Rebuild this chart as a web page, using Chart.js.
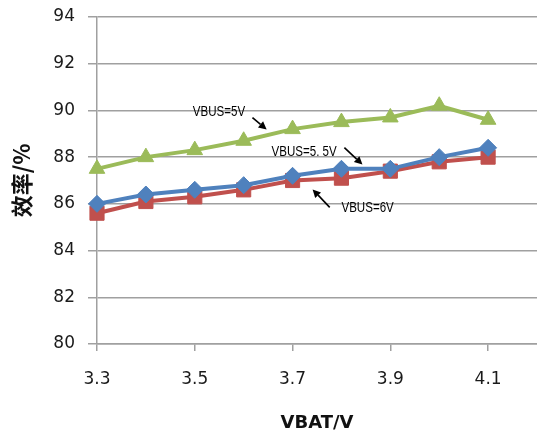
<!DOCTYPE html>
<html>
<head>
<meta charset="utf-8">
<script src="https://cdn.jsdelivr.net/npm/chart.js@4/dist/chart.umd.min.js"></script>
<style>
  html, body { margin: 0; padding: 0; background: #ffffff; overflow: hidden; }
  #wrap { width: 537px; height: 434px; position: relative; }
</style>
</head>
<body>
<div id="wrap"><canvas id="c"></canvas></div>
<script>
// ---- data ----
const vbat = [3.3, 3.4, 3.5, 3.6, 3.7, 3.8, 3.9, 4.0, 4.1];
const xTickValues = [3.3, 3.5, 3.7, 3.9, 4.1];
const yTickMin = 80;
const yTickMax = 94;
const yTickStep = 2;
const vbus5 = [87.5, 88.0, 88.3, 88.7, 89.2, 89.5, 89.7, 90.2, 89.6];
const vbus55 = [86.0, 86.4, 86.6, 86.8, 87.2, 87.5, 87.5, 88.0, 88.4];
const vbus6 = [85.6, 86.1, 86.3, 86.6, 87.0, 87.1, 87.4, 87.8, 88.0];
const seriesNames = ['VBUS=5V', 'VBUS=5.5V', 'VBUS=6V'];
const xTitle = 'VBAT/V';
const yTitle = '效率/%';
// annotation labels: text anchor (x, y) and arrow from -> to, in data units
const noteTexts = ['VBUS=5V', 'VBUS=5. 5V', 'VBUS=6V'];
const noteTextX = [3.496, 3.657, 3.800];
const noteTextY = [89.95, 88.24, 85.85];
const arrowFromX = [3.618, 3.806, 3.776];
const arrowFromY = [89.69, 88.41, 85.85];
const arrowToX = [3.647, 3.843, 3.741];
const arrowToY = [89.18, 87.68, 86.62];

const pts = arr => vbat.map((v, i) => ({ x: v, y: arr[i] }));

const gridGray = '#a0a0a0';
const tickFont = { family: 'DejaVu Sans', size: 17 };

const notesPlugin = {
  id: 'notes',
  afterDatasetsDraw(chart) {
    const ctx = chart.ctx;
    const xs = chart.scales.x, ys = chart.scales.y;
    ctx.save();
    ctx.fillStyle = '#000';
    ctx.strokeStyle = '#000';
    for (let i = 0; i < noteTexts.length; i++) {
      ctx.save();
      ctx.translate(xs.getPixelForValue(noteTextX[i]), ys.getPixelForValue(noteTextY[i]));
      ctx.scale(0.77, 1);
      ctx.font = '15px "Liberation Sans", Arial, sans-serif';
      ctx.textBaseline = 'middle';
      ctx.textAlign = 'left';
      ctx.fillText(noteTexts[i], 0, 0);
      ctx.restore();
      const x1 = xs.getPixelForValue(arrowFromX[i]), y1 = ys.getPixelForValue(arrowFromY[i]);
      const x2 = xs.getPixelForValue(arrowToX[i]), y2 = ys.getPixelForValue(arrowToY[i]);
      const ang = Math.atan2(y2 - y1, x2 - x1);
      const head = 8, hw = 4;
      const bx = x2 - Math.cos(ang) * head, by = y2 - Math.sin(ang) * head;
      ctx.lineWidth = 1.6;
      ctx.beginPath();
      ctx.moveTo(x1, y1);
      ctx.lineTo(bx, by);
      ctx.stroke();
      ctx.beginPath();
      ctx.moveTo(x2, y2);
      ctx.lineTo(bx - Math.sin(ang) * hw, by + Math.cos(ang) * hw);
      ctx.lineTo(bx + Math.sin(ang) * hw, by - Math.cos(ang) * hw);
      ctx.closePath();
      ctx.fill();
    }
    ctx.restore();
  }
};

// stretch the plot area to the right edge of the canvas, as in the reference
const fullWidthPlugin = {
  id: 'fullWidth',
  afterLayout(chart) {
    const xs = chart.scales.x;
    const r = chart.width;
    xs.right = r;
    xs.width = r - xs.left;
    xs.configure();
    chart.chartArea.right = r;
    chart.chartArea.width = r - chart.chartArea.left;
  }
};

const bgPlugin = {
  id: 'bg',
  beforeDraw(chart) {
    const ctx = chart.ctx;
    ctx.save();
    ctx.fillStyle = '#ffffff';
    ctx.fillRect(0, 0, chart.width, chart.height);
    ctx.restore();
  }
};

new Chart(document.getElementById('c'), {
  type: 'line',
  data: {
    datasets: [
      {
        label: seriesNames[0], data: pts(vbus5),
        borderColor: '#9BBB59', backgroundColor: '#9BBB59',
        borderWidth: 4, pointStyle: 'triangle', pointRadius: 9,
        pointBorderWidth: 1, pointBorderColor: '#9BBB59', pointBackgroundColor: '#9BBB59',
        tension: 0, clip: false
      },
      {
        label: seriesNames[1], data: pts(vbus55),
        borderColor: '#4F81BD', backgroundColor: '#4F81BD',
        borderWidth: 4, pointStyle: 'rectRot', pointRadius: 8.5,
        pointBorderWidth: 1, pointBorderColor: '#4F81BD', pointBackgroundColor: '#4F81BD',
        tension: 0, clip: false
      },
      {
        label: seriesNames[2], data: pts(vbus6),
        borderColor: '#C0504D', backgroundColor: '#C0504D',
        borderWidth: 4, pointStyle: 'rect', pointRadius: 10,
        pointBorderWidth: 1, pointBorderColor: '#C0504D', pointBackgroundColor: '#C0504D',
        tension: 0, clip: false
      }
    ]
  },
  options: {
    responsive: true,
    maintainAspectRatio: false,
    animation: false,
    layout: { padding: { top: 17, left: 0, right: 0, bottom: 0 } },
    plugins: {
      legend: { display: false },
      tooltip: { enabled: false }
    },
    scales: {
      x: {
        type: 'linear',
        min: 3.3,
        max: 4.2,
        afterBuildTicks(axis) { axis.ticks = xTickValues.map(v => ({ value: v })); },
        afterFit(scale) {
          scale.height = 90;
          scale.paddingLeft = 0;
          scale.paddingRight = 0;
        },
        grid: { drawOnChartArea: false, drawTicks: true, tickLength: 7, color: gridGray, lineWidth: 1.5 },
        border: { display: true, color: gridGray, width: 1.5 },
        ticks: {
          color: '#1a1a1a', font: tickFont, padding: 18, maxRotation: 0, autoSkip: false,
          callback: v => Number(v).toFixed(1)
        },
        title: {
          display: true, text: xTitle, color: '#111',
          font: { family: 'DejaVu Sans', size: 18, weight: 'bold' },
          padding: { top: 0, bottom: 0 }
        }
      },
      y: {
        min: yTickMin,
        max: yTickMax,
        afterFit(scale) {
          scale.width = 97; scale.paddingTop = 0; scale.paddingBottom = 0;
        },
        grid: { drawOnChartArea: true, drawTicks: true, tickLength: 9, color: gridGray, lineWidth: 1.5 },
        border: { display: true, color: gridGray, width: 1.5 },
        ticks: { stepSize: yTickStep, color: '#1a1a1a', font: tickFont, padding: 13 },
        title: {
          display: true, text: yTitle, color: '#111',
          font: { family: '"Noto Sans CJK SC", sans-serif', size: 22, weight: 'bold' },
          padding: { top: 8, bottom: 0 }
        }
      }
    }
  },
  plugins: [bgPlugin, fullWidthPlugin, notesPlugin]
});
</script>
</body>
</html>
